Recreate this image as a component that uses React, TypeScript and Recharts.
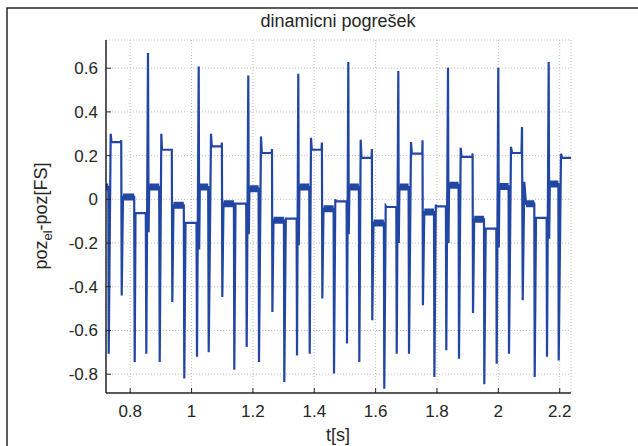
import React from 'react'
import { LineChart, Line, XAxis, YAxis, CartesianGrid } from 'recharts'

// time axis [s]
const tValues = [
  0.7211, 0.7286, 0.7299, 0.7364, 0.7391, 0.7690, 0.7707, 0.7723, 0.7765, 0.8130,
  0.8147, 0.8173, 0.8508, 0.8525, 0.8580, 0.8600, 0.8619, 0.8945, 0.8962, 0.9014,
  0.9037, 0.9356, 0.9372, 0.9411, 0.9747, 0.9763, 0.9803, 1.0161, 1.0177, 1.0233,
  1.0249, 1.0269, 1.0542, 1.0559, 1.0634, 1.0660, 1.0976, 1.0989, 1.1002, 1.1041,
  1.1380, 1.1393, 1.1432, 1.1781, 1.1797, 1.1849, 1.1866, 1.1885, 1.2185, 1.2198,
  1.2263, 1.2289, 1.2609, 1.2622, 1.2635, 1.2671, 1.3010, 1.3023, 1.3072, 1.3424,
  1.3437, 1.3479, 1.3496, 1.3515, 1.3838, 1.3851, 1.3893, 1.3919, 1.4235, 1.4249,
  1.4262, 1.4301, 1.4630, 1.4643, 1.4685, 1.4708, 1.5054, 1.5067, 1.5109, 1.5125,
  1.5145, 1.5454, 1.5468, 1.5513, 1.5539, 1.5865, 1.5878, 1.5891, 1.5930, 1.6269,
  1.6282, 1.6328, 1.6354, 1.6674, 1.6687, 1.6739, 1.6755, 1.6775, 1.7074, 1.7088,
  1.7153, 1.7179, 1.7521, 1.7528, 1.7541, 1.7586, 1.7902, 1.7915, 1.7961, 1.7984,
  1.8290, 1.8303, 1.8359, 1.8375, 1.8395, 1.8704, 1.8717, 1.8773, 1.8799, 1.9151,
  1.9161, 1.9174, 1.9213, 1.9532, 1.9542, 1.9588, 1.9933, 1.9946, 1.9998, 2.0015,
  2.0034, 2.0334, 2.0347, 2.0412, 2.0445, 2.0754, 2.0771, 2.0794, 2.0846, 2.0901,
  2.1172, 2.1185, 2.1227, 2.1573, 2.1586, 2.1641, 2.1657, 2.1677, 2.1957, 2.1967,
  2.2042, 2.2075, 2.2400,
]

// poz_el - poz [FS]
const errValues = [
  0.056, 0.056, -0.706, 0.30, 0.262, 0.262, 0.27, -0.44, 0.011, 0.011,
  -0.744, -0.063, -0.063, -0.706, 0.669, -0.15, 0.056, 0.056, -0.744, 0.30,
  0.227, 0.227, -0.47, -0.027, -0.027, -0.82, -0.108, -0.108, -0.72, 0.608,
  -0.23, 0.056, 0.056, -0.70, 0.30, 0.242, 0.242, 0.26, -0.447, -0.02,
  -0.02, -0.78, -0.02, -0.02, -0.676, 0.567, -0.16, 0.049, 0.049, -0.744,
  0.288, 0.212, 0.212, 0.23, -0.515, -0.096, -0.096, -0.836, -0.088, -0.088,
  -0.714, 0.575, -0.21, 0.056, 0.056, -0.706, 0.282, 0.227, 0.227, 0.26,
  -0.454, -0.043, -0.043, -0.797, 0.0, -0.009, -0.009, -0.66, 0.628, -0.16,
  0.056, 0.056, -0.744, 0.273, 0.19, 0.19, 0.23, -0.553, -0.108, -0.108,
  -0.866, -0.03, -0.035, -0.035, -0.706, 0.587, -0.2, 0.056, 0.056, -0.706,
  0.262, 0.209, 0.209, 0.27, -0.485, -0.058, -0.058, -0.813, -0.025, -0.032,
  -0.032, -0.69, 0.602, -0.2, 0.065, 0.065, -0.729, 0.236, 0.194, 0.194,
  0.21, -0.52, -0.091, -0.091, -0.846, -0.134, -0.134, -0.752, 0.602, -0.22,
  0.059, 0.059, -0.706, 0.24, 0.212, 0.212, 0.331, -0.462, 0.08, -0.02,
  -0.02, -0.813, -0.085, -0.085, -0.72, 0.628, -0.18, 0.07, 0.07, -0.737,
  0.209, 0.19, 0.19,
]

// noisy plateaus (drawn as a thick band): start, end, level
const bandStart = [0.7211, 0.7765, 0.8619, 0.9411, 1.0269, 1.1041, 1.1885, 1.2671, 1.3515, 1.4301,
  1.5145, 1.5930, 1.6775, 1.7586, 1.8395, 1.9213, 2.0034, 2.0901, 2.1677]
const bandEnd = [0.7286, 0.8130, 0.8945, 0.9747, 1.0542, 1.1380, 1.2185, 1.3010, 1.3838, 1.4630,
  1.5454, 1.6269, 1.7074, 1.7902, 1.8704, 1.9532, 2.0334, 2.1172, 2.1957]
const bandLevel = [0.056, 0.011, 0.056, -0.027, 0.056, -0.02, 0.049, -0.096, 0.056, -0.043,
  0.056, -0.108, 0.056, -0.058, 0.065, -0.091, 0.059, -0.02, 0.07]

const xTicks = [0.8, 1, 1.2, 1.4, 1.6, 1.8, 2, 2.2]
const yTicks = [-0.8, -0.6, -0.4, -0.2, 0, 0.2, 0.4, 0.6]

const mainData = tValues.map((t, i) => ({ t, v: errValues[i] }))
const bandData: { t: number; b: number | null }[] = []
bandStart.forEach((s, i) => {
  bandData.push({ t: s, b: bandLevel[i] })
  bandData.push({ t: bandEnd[i], b: bandLevel[i] })
  bandData.push({ t: bandEnd[i] + 0.0001, b: null })
})

const BLUE = '#2146a3'
const INK = '#262626'
const FONT = '"Liberation Sans", Arial, sans-serif'

const XTick = ({ x, y, payload }: any) => (
  <g>
    <line x1={x} x2={x} y1={y} y2={y - 5} stroke={INK} />
    <text x={x} y={y + 24} textAnchor="middle" fontSize={17} fill={INK} fontFamily={FONT}>
      {payload.value}
    </text>
  </g>
)

const YTick = ({ x, y, payload }: any) => (
  <g>
    <line x1={x} x2={x + 5} y1={y} y2={y} stroke={INK} />
    <text x={x - 8} y={y + 6} textAnchor="end" fontSize={17} fill={INK} fontFamily={FONT}>
      {payload.value}
    </text>
  </g>
)

export default function App() {
  return (
    <div style={{ position: 'absolute', left: 0, top: 0, width: 638, height: 446, background: '#fff' }}>
      <LineChart width={638} height={446} margin={{ top: 40, right: 67, bottom: 23, left: 66 }}>
        <CartesianGrid stroke="#bdbdbd" strokeDasharray="1 2" />
        <XAxis
          type="number"
          dataKey="t"
          domain={[0.7211, 2.2368]}
          ticks={xTicks}
          allowDataOverflow
          height={30}
          tickSize={0}
          tickMargin={0}
          tickLine={false}
          tick={<XTick />}
          axisLine={{ stroke: INK, strokeWidth: 1.5 }}
        />
        <YAxis
          type="number"
          domain={[-0.886, 0.729]}
          ticks={yTicks}
          allowDataOverflow
          width={40}
          tickSize={0}
          tickMargin={0}
          tickLine={false}
          tick={<YTick />}
          axisLine={{ stroke: INK, strokeWidth: 1.5 }}
        />
        <Line
          data={bandData}
          dataKey="b"
          type="linear"
          stroke={BLUE}
          strokeWidth={7}
          strokeLinecap="butt"
          dot={false}
          connectNulls={false}
          isAnimationActive={false}
        />
        <Line
          data={mainData}
          dataKey="v"
          type="linear"
          stroke={BLUE}
          strokeWidth={2.2}
          dot={false}
          isAnimationActive={false}
        />
      </LineChart>
      <svg width={638} height={446} style={{ position: 'absolute', left: 0, top: 0, pointerEvents: 'none' }}>
        <polyline points="7,446 7,8 638,8" fill="none" stroke={INK} strokeWidth={1.5} />
        <text x={338} y={27} textAnchor="middle" fontSize={18} fill={INK} fontFamily={FONT}>
          dinamicni pogrešek
        </text>
        <text x={338} y={441} textAnchor="middle" fontSize={18} fill={INK} fontFamily={FONT}>
          t[s]
        </text>
        <text
          transform="translate(47,216) rotate(-90)"
          textAnchor="middle"
          fontSize={18}
          fill={INK}
          fontFamily={FONT}
        >
          poz<tspan fontSize={13} dy={5}>el</tspan>
          <tspan dy={-5}>-poz[FS]</tspan>
        </text>
      </svg>
    </div>
  )
}
